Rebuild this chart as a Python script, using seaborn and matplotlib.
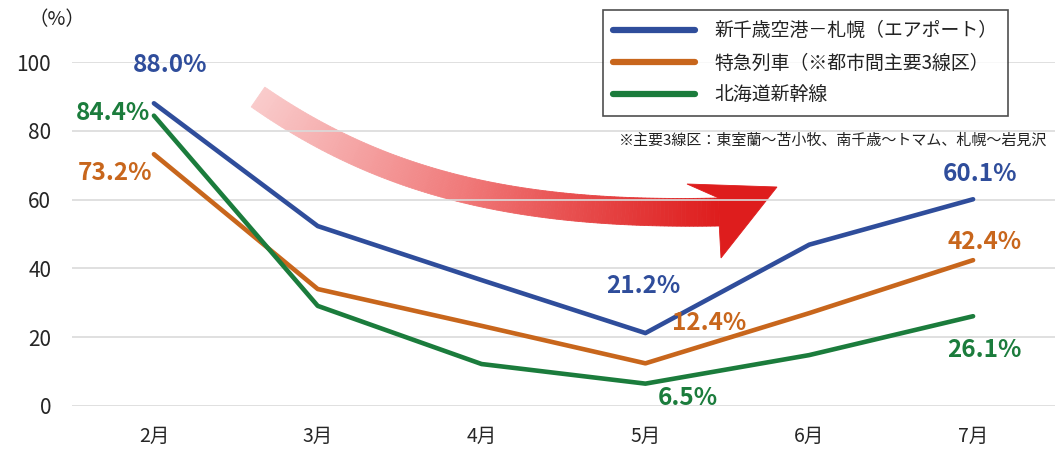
import numpy as np
import pandas as pd
import matplotlib
matplotlib.use("Agg")
import matplotlib.pyplot as plt
from matplotlib.patches import Polygon
from matplotlib.lines import Line2D
import seaborn as sns

months = ["2月", "3月", "4月", "5月", "6月", "7月"]
series_names = ["新千歳空港－札幌（エアポート）", "特急列車（※都市間主要3線区）", "北海道新幹線"]
airport = [88.0, 52.3, 36.6, 21.2, 46.9, 60.1]
express = [73.2, 34.0, 23.3, 12.4, 27.0, 42.4]
shinkansen = [84.4, 29.1, 12.2, 6.5, 14.8, 26.1]
colors = ["#2F4D9B", "#C8661C", "#1B7C3C"]
yticks = [0, 20, 40, 60, 80, 100]
note = "※主要3線区：東室蘭～苫小牧、南千歳～トマム、札幌～岩見沢"

sns.set_theme(style="white")
plt.rcParams['font.family'] = ['Noto Sans CJK JP', 'DejaVu Sans']

df = pd.DataFrame({
    "month": months * 3,
    "value": airport + express + shinkansen,
    "series": sum([[n] * len(months) for n in series_names], []),
})

W, H = 1056, 451
fig = plt.figure(figsize=(W / 100, H / 100), dpi=100)
L, R, B, T = 72, 1055, 406, 62
ax = fig.add_axes([L / W, 1 - B / H, (R - L) / W, (B - T) / H])

# overlay for the decorative arrow (pixel coordinates)
ov = fig.add_axes([0, 0, 1, 1], zorder=0)
ov.set_xlim(0, W)
ov.set_ylim(H, 0)
ov.axis("off")
ax.set_zorder(1)
ax.patch.set_alpha(0)

def bez(t, P):
    P = np.asarray(P, float)
    return ((1 - t) ** 3)[:, None] * P[0] + (3 * (1 - t) ** 2 * t)[:, None] * P[1] + \
           (3 * (1 - t) * t ** 2)[:, None] * P[2] + (t ** 3)[:, None] * P[3]

P = [(258, 97), (385, 185), (520, 216), (719, 212)]
n = 140
t = np.linspace(0, 1, n)
c = bez(t, P)
d = np.gradient(c, axis=0)
nrm = np.stack([-d[:, 1], d[:, 0]], axis=1)
nrm /= np.linalg.norm(nrm, axis=1)[:, None]
hw = (12 + 2.0 * t)[:, None]
up = c - nrm * hw
lo = c + nrm * hw
cmap = matplotlib.colors.LinearSegmentedColormap.from_list("g", ["#F9CBCB", "#F07A7A", "#DE1D1D"])
for i in range(n - 1):
    poly = [up[i], up[i + 1], lo[i + 1], lo[i]]
    col = cmap(i / (n - 1))
    ov.add_patch(Polygon(poly, closed=True, facecolor=col, edgecolor=col, lw=0.6))
e_top = tuple(up[-1]) if up[-1][1] < lo[-1][1] else tuple(lo[-1])
e_bot = tuple(lo[-1]) if up[-1][1] < lo[-1][1] else tuple(up[-1])
ov.add_patch(Polygon([e_top, (687, 184), (777, 187), (721, 258), e_bot], closed=True,
                     facecolor="#DE1D1D", edgecolor="#DE1D1D", lw=0.6))

sns.lineplot(data=df, x="month", y="value", hue="series", palette=colors, linewidth=3.3,
             ax=ax, legend=False, sort=False)

ax.set_xlim(-0.5, 5.5)
ax.set_ylim(0, 100)
ax.set_yticks(yticks)
ax.set_yticklabels([str(v) for v in yticks], fontsize=15)
ax.tick_params(axis="x", labelsize=14, pad=14, length=0)
ax.tick_params(axis="y", pad=15, length=0)
ax.grid(axis="y", color="#DADADA", linewidth=1.2)
ax.set_axisbelow(True)
ax.set_xlabel("")
ax.set_ylabel("")
for s in ax.spines.values():
    s.set_visible(False)

# data labels
labels = [
    ("88.0%", colors[0], 0.1, 99.0),
    ("84.4%", colors[2], -0.25, 85.3),
    ("73.2%", colors[1], -0.24, 67.7),
    ("60.1%", colors[0], 5.04, 67.3),
    ("42.4%", colors[1], 5.07, 47.8),
    ("26.1%", colors[2], 5.07, 16.2),
    ("21.2%", colors[0], 2.99, 34.8),
    ("12.4%", colors[1], 3.39, 24.0),
    ("6.5%", colors[2], 3.26, 2.4),
]
for txt, col, lx, ly in labels:
    ax.text(lx, ly, txt, color=col, fontsize=17.5, fontweight="bold", ha="center", va="center",
            clip_on=False)

fig.text(57 / W, 1 - 20 / H, "（%）", fontsize=14, ha="center", va="center", color="#222222")

# legend
handles = [Line2D([0], [0], color=c_, lw=4.5) for c_ in colors]
leg = fig.legend(handles, series_names, loc="upper left",
                 bbox_to_anchor=(603 / W, 1 - 10 / H), frameon=True, fancybox=False,
                 edgecolor="#222222", fontsize=13.6, handlelength=4.3, handletextpad=1.05,
                 labelspacing=0.6, borderpad=0.55, borderaxespad=0)
leg.get_frame().set_linewidth(1.2)
leg.set_zorder(5)
for txt in leg.get_texts():
    txt.set_color("#222222")

fig.text(1047 / W, 1 - 141 / H, note, fontsize=10.8, ha="right", va="center", color="#222222")

fig.savefig("out.png", dpi=100)
